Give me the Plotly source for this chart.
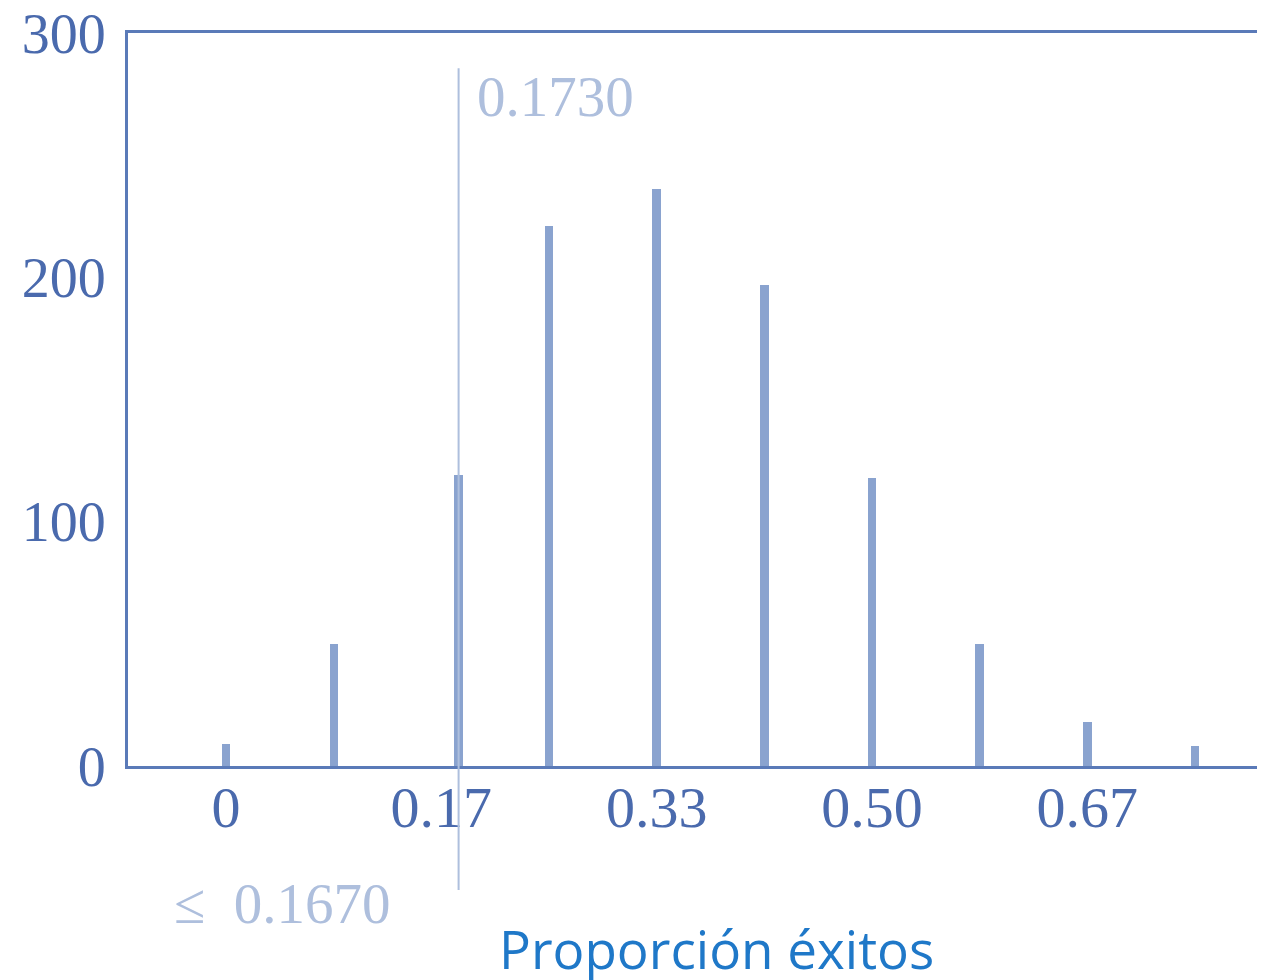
import plotly.graph_objects as go

# Data
proportions = [0.0, 1/12, 0.18, 3/12, 4/12, 5/12, 6/12, 7/12, 8/12, 9/12]
counts = [9, 50, 119, 221, 236, 197, 118, 50, 18, 8]
x_tick_vals = [0, 1/6, 1/3, 0.5, 2/3]
x_tick_text = ["0", "0.17", "0.33", "0.50", "0.67"]
y_tick_vals = [0, 100, 200, 300]
marker_x = 0.18
marker_label_right = "0.1730"
marker_label_left = "≤\u00a0\u00a00.1670"
x_title = "Proporción éxitos"

axis_col = "#5a7ab8"
tick_col = "#4a6aad"
bar_col = "#8aa3cf"
light_col = "#aebfdd"

fig = go.Figure()
fig.add_trace(go.Bar(
    x=proportions, y=counts, width=0.0065,
    marker=dict(color=bar_col, line=dict(width=0)),
    showlegend=False,
))

fig.add_shape(type="line", xref="x", yref="paper",
              x0=marker_x, x1=marker_x, y0=0.952, y1=-0.169,
              line=dict(color=light_col, width=2), layer="above")

fig.add_annotation(xref="x", yref="paper", x=marker_x, y=0.913,
                   text=marker_label_right, showarrow=False,
                   xanchor="left", yanchor="middle", xshift=16,
                   font=dict(family="Liberation Serif", size=57, color=light_col))
fig.add_annotation(xref="x", yref="paper", x=marker_x, y=-0.187,
                   text=marker_label_left, showarrow=False,
                   xanchor="right", yanchor="middle", xshift=-66,
                   font=dict(family="Liberation Serif", size=57, color=light_col))
fig.add_annotation(xref="paper", yref="paper", x=(716-128)/1137, y=(766-948)/733,
                   text=x_title, showarrow=False,
                   xanchor="center", yanchor="middle",
                   font=dict(family="Open Sans", size=53, color="#1f78c8"))

fig.update_layout(
    width=1265, height=972,
    margin=dict(l=120, r=8, t=25, b=214, autoexpand=False),
    paper_bgcolor="white", plot_bgcolor="white",
    bargap=0,
    xaxis=dict(range=[-0.0759, 0.8042], tickvals=x_tick_vals, ticktext=x_tick_text,
               showgrid=False, zeroline=False, showline=True, mirror=True,
               linecolor=axis_col, linewidth=3, ticks="", ticklabelstandoff=-12,
               tickfont=dict(family="Liberation Serif", size=58, color=tick_col)),
    yaxis=dict(range=[0, 300], tickvals=y_tick_vals,
               showgrid=False, zeroline=False, showline=True,
               linecolor=axis_col, linewidth=3, ticks="", ticklabelstandoff=8,
               ticklabeloverflow="allow",
               tickfont=dict(family="Liberation Serif", size=56, color=tick_col)),
)

fig.write_html("out.html")
